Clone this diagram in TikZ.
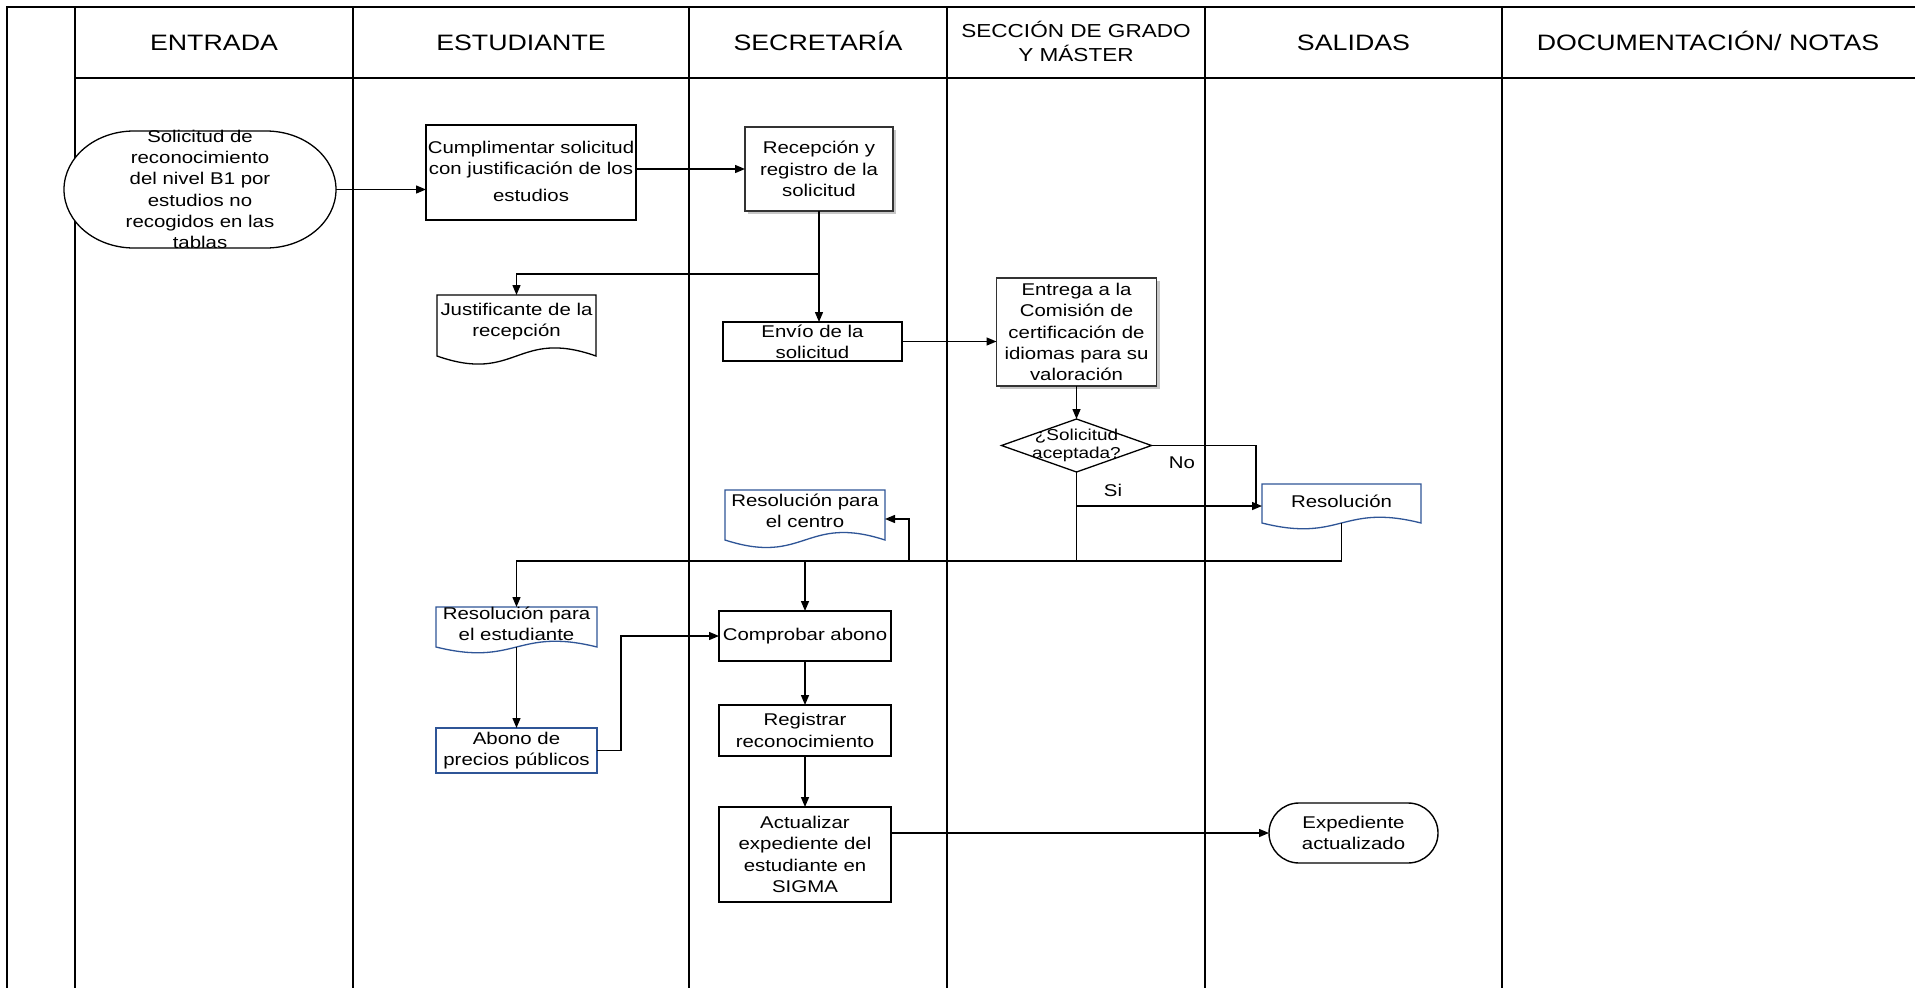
\documentclass[tikz,border=0pt]{standalone}
\usepackage{fontspec}
\setmainfont{Liberation Sans}[FakeStretch=1.2]
\usetikzlibrary{arrows.meta,calc,shadows}
\definecolor{docblue}{RGB}{47,85,151}
\begin{document}
\begin{tikzpicture}[x=1pt,y=-1pt,
  frameline/.style={line width=1.8pt, draw=black},
  conn/.style={line width=1.4pt, draw=black},
  arr/.style={conn, -{Triangle[length=10pt,width=8pt]}},
  hdr/.style={font=\fontsize{22.3}{26}\selectfont, inner sep=0pt, anchor=base},
  txt/.style={font=\fontsize{17}{21.3}\selectfont, align=center, inner sep=0pt},
  procbox/.style={draw=black, line width=1.4pt, fill=white, rectangle, inner sep=0pt, outer sep=0pt},
  shadowbox/.style={procbox, draw=black!80, drop shadow={shadow xshift=3pt, shadow yshift=-3pt, fill=black!22, opacity=1}},
  bluebox/.style={procbox, draw=docblue, line width=1.3pt},
  region/.style={rectangle, inner sep=0pt, outer sep=0pt},
  docline/.style={line width=1.3pt, draw=black, fill=white},
  bluedoc/.style={line width=1.3pt, draw=docblue, fill=white},
  lbl/.style={font=\fontsize{17}{20}\selectfont, inner sep=0pt}
]
\useasboundingbox[fill=white] (0,0) rectangle (1915,988);

% ---- swimlane frame ----
\draw[frameline] (7,988) -- (7,7) -- (1915,7);
\draw[frameline] (75,78) -- (1915,78);
\foreach \x in {75,353,689,947,1205,1502} \draw[frameline] (\x,7) -- (\x,988);

% ---- headers ----
\node[hdr] (hEnt) at (214,50) {ENTRADA};
\node[hdr] (hEst) at (521,50) {ESTUDIANTE};
\node[hdr] (hSecr) at (818,50) {SECRETARÍA};
\node[hdr, font=\fontsize{18.8}{24}\selectfont] (hSec1) at (1076,37) {SECCIÓN DE GRADO};
\node[hdr, font=\fontsize{18.8}{24}\selectfont] (hSec2) at (1076,61) {Y MÁSTER};
\node[hdr] (hSal) at (1353.5,50) {SALIDAS};
\node[hdr] (hDoc) at (1708,50) {DOCUMENTACIÓN/ NOTAS};

% ---- shapes ----
\node[region, minimum width=272pt, minimum height=117pt] (start) at (200,189.5) {};
\draw[docline] (134,131) -- (266,131) .. controls (304.7,131) and (336,157.2) .. (336,189.5)
  .. controls (336,221.8) and (304.7,248) .. (266,248) -- (134,248)
  .. controls (95.3,248) and (64,221.8) .. (64,189.5)
  .. controls (64,157.2) and (95.3,131) .. (134,131) -- cycle;
\node[txt] (startt) at (start.center) {Solicitud de\\reconocimiento\\del nivel B1 por\\estudios no\\recogidos en las\\tablas};

\node[procbox, minimum width=210pt, minimum height=95pt] (cump) at (531,172.5) {};
\node[txt] (cumpt) at (531,171.5) {Cumplimentar solicitud\\con justificación de los\\[6pt]estudios};

\node[shadowbox, minimum width=148pt, minimum height=84pt] (recep) at (819,169) {};
\node[txt] (recept) at (recep.center) {Recepción y\\registro de la\\solicitud};

\node[region, minimum width=159pt, minimum height=61pt] (just) at (516.5,325.5) {};
\draw[docline] (just.north west) -- (just.north east) -- (just.south east)
  .. controls ($(just.south)+(0,-28)$) and ($(just.south)+(0,28)$) .. (just.south west) -- cycle;
\node[txt] (justt) at ($(just.center)+(0,-4)$) {Justificante de la\\recepción};

\node[procbox, minimum width=179pt, minimum height=39pt] (envio) at (812.5,341.5) {};
\node[txt] (enviot) at (envio.center) {Envío de la\\solicitud};

\node[shadowbox, minimum width=160pt, minimum height=108pt] (entrega) at (1076.5,332) {};
\node[txt] (entregat) at (entrega.center) {Entrega a la\\Comisión de\\certificación de\\idiomas para su\\valoración};

\node[region, minimum width=150pt, minimum height=53pt] (dia) at (1076.5,445.5) {};
\draw[docline] (dia.north) -- (dia.east) -- (dia.south) -- (dia.west) -- cycle;
\node[txt, font=\fontsize{15.8}{18}\selectfont] (diat) at (dia.center) {¿Solicitud\\aceptada?};

\node[region, minimum width=159pt, minimum height=39pt] (resol) at (1341.5,503.5) {};
\draw[bluedoc] (resol.north west) -- (resol.north east) -- (resol.south east)
  .. controls ($(resol.south)+(0,-20)$) and ($(resol.south)+(0,20)$) .. (resol.south west) -- cycle;
\node[txt] (resolt) at ($(resol.center)+(0,-2.5)$) {Resolución};

\node[region, minimum width=160pt, minimum height=50pt] (rescen) at (805,515) {};
\draw[bluedoc] (rescen.north west) -- (rescen.north east) -- (rescen.south east)
  .. controls ($(rescen.south)+(0,-26)$) and ($(rescen.south)+(0,26)$) .. (rescen.south west) -- cycle;
\node[txt] (rescent) at ($(rescen.center)+(0,-4)$) {Resolución para\\el centro};

\node[region, minimum width=161pt, minimum height=40pt] (resest) at (516.5,627) {};
\draw[bluedoc] (resest.north west) -- (resest.north east) -- (resest.south east)
  .. controls ($(resest.south)+(0,-20)$) and ($(resest.south)+(0,20)$) .. (resest.south west) -- cycle;
\node[txt] (resestt) at ($(resest.center)+(0,-3.5)$) {Resolución para\\el estudiante};

\node[bluebox, minimum width=161pt, minimum height=45pt] (abono) at (516.5,750.5) {};
\node[txt] (abonot) at (abono.center) {Abono de\\precios públicos};

\node[procbox, minimum width=172pt, minimum height=50pt] (comp) at (805,636) {};
\node[txt] (compt) at (comp.center) {Comprobar abono};

\node[procbox, minimum width=172pt, minimum height=51pt] (reg) at (805,730.5) {};
\node[txt] (regt) at (reg.center) {Registrar\\reconocimiento};

\node[procbox, minimum width=172pt, minimum height=95pt] (act) at (805,854.5) {};
\node[txt] (actt) at (act.center) {Actualizar\\expediente del\\estudiante en\\SIGMA};

\node[procbox, rounded corners=30pt, minimum width=169pt, minimum height=60pt] (exp) at (1353.5,833) {};
\node[txt] (expt) at (exp.center) {Expediente\\actualizado};

% ---- labels ----
\node[lbl] (nolbl) at (1182,463) {No};
\node[lbl] (silbl) at (1113,490) {Si};

% ---- connector coordinates ----
\coordinate (split1) at (819,274);
\coordinate (nocorner) at (1256,445.5);
\coordinate (sicorner) at (1076.5,506);
\coordinate (busR) at (1341.5,561);
\coordinate (cenup) at (909,561);
\coordinate (cenin) at (909,519);
\coordinate (abx) at (621,750.5);

% ---- connectors ----
\draw[arr] (start.east) -- (start.east -| cump.west);
\draw[arr] (recep.west -| cump.east) -- (recep.west);
\draw[arr] (recep.south) -- (split1) -| (just.north);
\draw[arr] (split1) -- (split1 |- envio.north);
\draw[arr] (envio.east) -- (envio.east -| entrega.west);
\draw[arr] (entrega.south) -- (dia.north);
\draw[conn] (dia.east) -- (nocorner) -- (nocorner |- sicorner);
\draw[arr] (dia.south) -- (sicorner) -- (sicorner -| resol.west);
\draw[conn] (sicorner) -- (sicorner |- busR);
\draw[arr] (resol.south) -- (busR) -| (resest.north);
\draw[arr] (comp.north |- busR) -- (comp.north);
\draw[arr] (cenup) -- (cenin) -- (cenin -| rescen.east);
\draw[arr] (resest.south) -- (abono.north);
\draw[arr] (abono.east) -- (abx) |- (comp.west);
\draw[arr] (comp.south) -- (reg.north);
\draw[arr] (reg.south) -- (act.north);
\draw[arr] (exp.west -| act.east) -- (exp.west);
\end{tikzpicture}
\end{document}
